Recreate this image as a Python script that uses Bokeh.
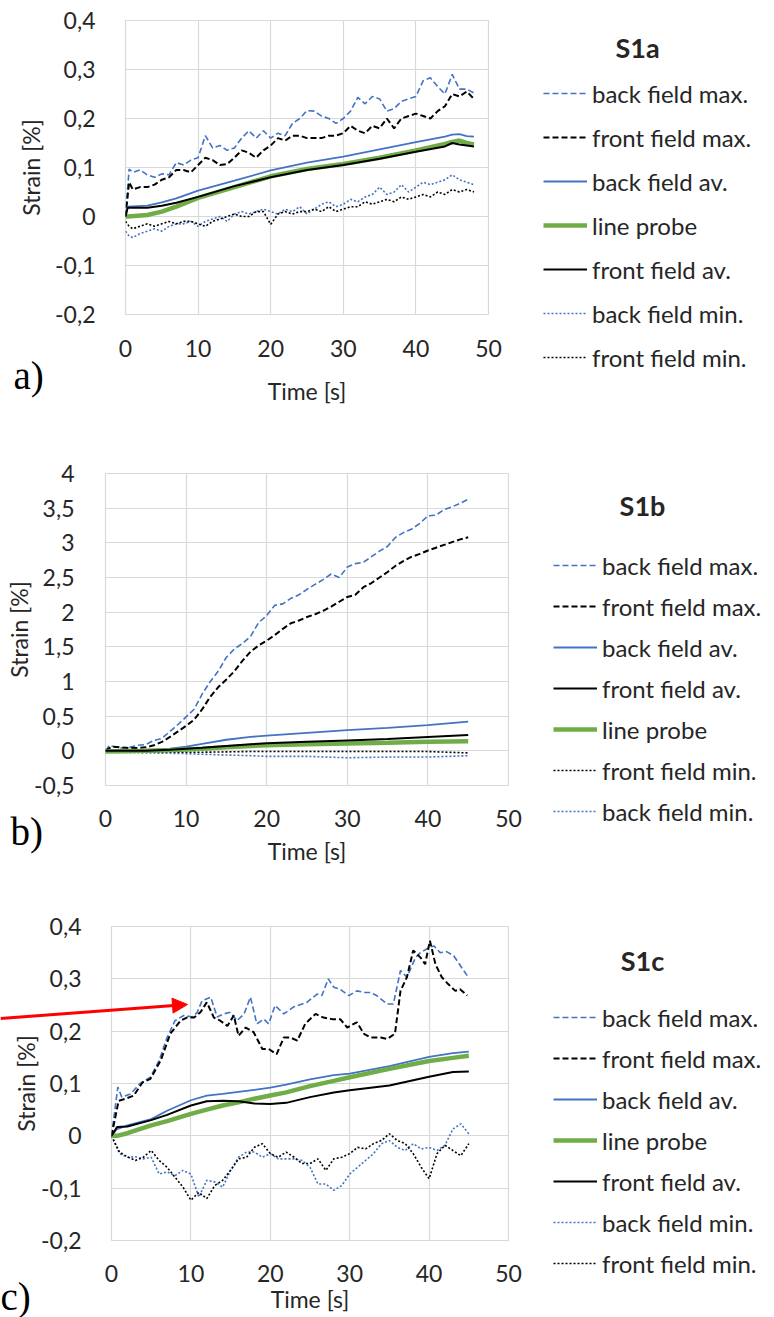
from bokeh.plotting import figure
from bokeh.models import (Range1d, FixedTicker, CustomJSTickFormatter, Legend, LegendItem,
                          Label, Arrow, NormalHead)
from bokeh.embed import file_html
from bokeh.resources import INLINE

# ---------------- data: panel a (S1a) ----------------
a_t = [0, 0.5] + list(range(1, 49))
a_back_max = [0.0, 0.097, 0.09, 0.095, 0.085, 0.08, 0.087, 0.085, 0.11, 0.105, 0.115, 0.12,
              0.165, 0.14, 0.145, 0.135, 0.14, 0.16, 0.175, 0.16, 0.175, 0.16,
              0.17, 0.165, 0.19, 0.2, 0.216, 0.215, 0.205, 0.2, 0.19, 0.2,
              0.215, 0.243, 0.23, 0.245, 0.24, 0.215, 0.22, 0.235, 0.24, 0.245,
              0.277, 0.283, 0.265, 0.25, 0.29, 0.26, 0.26, 0.252]
a_front_max = [0.0, 0.07, 0.055, 0.06, 0.06, 0.065, 0.075, 0.08, 0.095, 0.095, 0.09, 0.105,
               0.12, 0.115, 0.105, 0.107, 0.12, 0.135, 0.13, 0.12, 0.135, 0.145,
               0.16, 0.155, 0.165, 0.165, 0.16, 0.16, 0.16, 0.165, 0.165, 0.17,
               0.185, 0.175, 0.17, 0.185, 0.18, 0.2, 0.18, 0.2, 0.205, 0.21,
               0.205, 0.2, 0.215, 0.225, 0.25, 0.245, 0.255, 0.24]
a_back_min = [-0.03, -0.04, -0.043, -0.035, -0.03, -0.025, -0.03, -0.02, -0.015, -0.015, -0.01, -0.02,
              -0.01, -0.005, 0.0, -0.01, 0.005, 0.01, 0.005, 0.01, 0.015, 0.01,
              0.005, 0.015, 0.01, 0.02, 0.005, 0.015, 0.025, 0.03, 0.02, 0.025,
              0.035, 0.03, 0.04, 0.045, 0.06, 0.045, 0.05, 0.065, 0.05, 0.06,
              0.07, 0.065, 0.07, 0.075, 0.085, 0.075, 0.07, 0.065]
a_front_min = [-0.01, -0.02, -0.025, -0.02, -0.015, -0.02, -0.015, -0.01, -0.015, -0.01, -0.01, -0.015,
               -0.02, -0.01, -0.005, 0.0, 0.005, 0.0, 0.0, 0.01, 0.01, -0.016,
               0.005, 0.01, 0.005, 0.01, 0.01, 0.015, 0.01, 0.02, 0.01, 0.015,
               0.02, 0.02, 0.03, 0.025, 0.03, 0.035, 0.03, 0.04, 0.035, 0.04,
               0.045, 0.04, 0.05, 0.045, 0.055, 0.05, 0.055, 0.05]
a_ts = [0, 0.3, 3, 5, 7, 10, 15, 20, 25, 30, 35, 40, 44, 45, 46, 47, 48]
a_back_av = [0, 0.02, 0.022, 0.029, 0.037, 0.053, 0.073, 0.094, 0.11, 0.122, 0.137, 0.152, 0.163, 0.167, 0.168, 0.164, 0.163]
a_front_av = [0, 0.018, 0.018, 0.022, 0.028, 0.04, 0.062, 0.08, 0.095, 0.105, 0.118, 0.132, 0.143, 0.15, 0.147, 0.145, 0.143]
a_line_probe = [0, 0.0, 0.003, 0.01, 0.02, 0.038, 0.06, 0.082, 0.097, 0.107, 0.12, 0.135, 0.148, 0.152, 0.155, 0.15, 0.147]

# ---------------- data: panel b (S1b) ----------------
b_t = [0, 0.5] + list(range(1, 46))
b_back_max = [0.0, 0.08, 0.06, 0.04, 0.05, 0.08, 0.09, 0.15, 0.18, 0.28, 0.38, 0.49,
              0.6, 0.82, 1.0, 1.15, 1.35, 1.47, 1.55, 1.65, 1.85, 1.95,
              2.1, 2.12, 2.2, 2.25, 2.33, 2.4, 2.47, 2.55, 2.5, 2.65,
              2.7, 2.72, 2.8, 2.88, 2.95, 3.08, 3.15, 3.2, 3.28, 3.39,
              3.4, 3.48, 3.52, 3.57, 3.63]
b_front_max = [0.0, 0.04, 0.06, 0.05, 0.04, 0.04, 0.05, 0.08, 0.13, 0.2, 0.28, 0.36,
               0.45, 0.6, 0.78, 0.92, 1.03, 1.15, 1.3, 1.43, 1.52, 1.59,
               1.67, 1.76, 1.84, 1.88, 1.93, 1.97, 2.02, 2.08, 2.15, 2.22,
               2.25, 2.36, 2.42, 2.5, 2.58, 2.67, 2.74, 2.8, 2.84, 2.89,
               2.93, 2.97, 3.01, 3.05, 3.08]
b_ts = [0, 5, 8, 10, 12, 15, 18, 20, 25, 30, 35, 40, 45]
b_back_av = [0, 0.01, 0.03, 0.06, 0.1, 0.16, 0.2, 0.22, 0.26, 0.3, 0.33, 0.37, 0.42]
b_front_av = [0, 0.0, 0.015, 0.03, 0.045, 0.07, 0.095, 0.11, 0.13, 0.15, 0.17, 0.2, 0.23]
b_line_probe = [-0.01, 0.0, 0.01, 0.02, 0.03, 0.05, 0.07, 0.08, 0.095, 0.105, 0.115, 0.13, 0.14]
b_front_min = [-0.01, -0.02, -0.02, -0.02, -0.02, -0.015, -0.01, -0.01, -0.01, -0.01, -0.01, -0.01, -0.03]
b_back_min = [-0.02, -0.03, -0.035, -0.04, -0.05, -0.06, -0.07, -0.08, -0.08, -0.1, -0.09, -0.09, -0.07]

# ---------------- data: panel c (S1c) ----------------
c_back_max_t = [0, 0.8, 1.3, 2.4, 3.6, 4.9, 6, 7, 8, 9.1, 10.2, 10.8, 11.4, 12.5, 13.3, 14.1, 15, 15.8,
                16.7, 17.5, 18.3, 19.2, 19.8, 20.6, 21.7, 22.9, 24.6, 25.9, 26.5, 27.3, 28, 28.8,
                29.9, 30.9, 31.8, 32.6, 33.4, 34.7, 35.5, 36.4, 37.2, 38.3, 38.9, 39.7, 40.6,
                41.4, 42.2, 43.1, 44.8]
c_back_max = [0, 0.093, 0.074, 0.08, 0.1, 0.112, 0.144, 0.188, 0.22, 0.23, 0.227, 0.236, 0.258, 0.265,
              0.227, 0.233, 0.236, 0.22, 0.233, 0.265, 0.214, 0.223, 0.214, 0.249, 0.233, 0.246,
              0.255, 0.271, 0.268, 0.3, 0.284, 0.28, 0.268, 0.277, 0.274, 0.274, 0.268, 0.252,
              0.252, 0.316, 0.303, 0.341, 0.35, 0.357, 0.363, 0.35, 0.352, 0.344, 0.306]
c_front_max_t = [0, 0.9, 1.8, 2.8, 3.9, 4.9, 6.2, 7.4, 8.7, 9.5, 10.4, 11.2, 12, 12.9, 13.7, 14.6, 15.4,
                 16, 16.9, 17.9, 19, 19.8, 20.8, 21.7, 22.5, 23.4, 24.4, 25.7, 26.7, 27.8, 28.8,
                 29.7, 30.9, 31.8, 32.6, 33.9, 34.7, 35.7, 36.4, 37.2, 38, 38.9, 39.5, 40.1, 40.8,
                 41.6, 42.4, 43.3, 43.9, 44.8]
c_front_max = [0, 0.067, 0.071, 0.077, 0.102, 0.109, 0.144, 0.195, 0.22, 0.226, 0.226, 0.236, 0.255,
               0.226, 0.22, 0.21, 0.23, 0.191, 0.207, 0.198, 0.166, 0.166, 0.156, 0.188, 0.188,
               0.182, 0.214, 0.233, 0.226, 0.223, 0.223, 0.207, 0.217, 0.195, 0.188, 0.188, 0.185,
               0.195, 0.277, 0.303, 0.354, 0.341, 0.328, 0.373, 0.328, 0.303, 0.29, 0.277, 0.28, 0.268]
c_ts = [0, 0.7, 2, 5, 7, 10, 12, 14, 16, 18, 20, 22, 25, 28, 30, 35, 40, 43, 45]
c_back_av = [0, 0.013, 0.02, 0.032, 0.048, 0.068, 0.077, 0.08, 0.084, 0.088, 0.092, 0.098, 0.108, 0.116, 0.119, 0.133, 0.151, 0.158, 0.161]
c_front_av = [0, 0.017, 0.018, 0.03, 0.04, 0.058, 0.066, 0.067, 0.066, 0.062, 0.061, 0.063, 0.074, 0.083, 0.087, 0.096, 0.113, 0.122, 0.123]
c_line_probe = [0, 0.0, 0.005, 0.02, 0.028, 0.042, 0.05, 0.058, 0.064, 0.071, 0.077, 0.083, 0.095, 0.105, 0.112, 0.128, 0.143, 0.149, 0.153]
c_t = list(range(0, 46))
c_back_min = [0, -0.034, -0.041, -0.04, -0.044, -0.041, -0.073, -0.069, -0.076, -0.066, -0.073, -0.117,
              -0.085, -0.088, -0.098, -0.066, -0.041, -0.031, -0.031, -0.041, -0.034, -0.044, -0.044,
              -0.044, -0.047, -0.06, -0.092, -0.092, -0.104, -0.095, -0.073, -0.06, -0.047, -0.034,
              -0.015, -0.009, -0.022, -0.028, -0.015, -0.025, -0.022, -0.028, -0.018, 0.013, 0.023, 0.004]
c_front_min = [0, -0.031, -0.04, -0.047, -0.041, -0.028, -0.047, -0.06, -0.079, -0.098, -0.123, -0.108,
               -0.12, -0.095, -0.085, -0.066, -0.044, -0.041, -0.022, -0.015, -0.034, -0.041, -0.031,
               -0.041, -0.053, -0.053, -0.044, -0.066, -0.044, -0.041, -0.034, -0.022, -0.025, -0.015,
               -0.009, 0.004, -0.009, -0.015, -0.034, -0.06, -0.082, -0.034, -0.018, -0.028, -0.038, -0.015]

x_ticks = [0, 10, 20, 30, 40, 50]
a_y_ticks = [-0.2, -0.1, 0, 0.1, 0.2, 0.3, 0.4]
b_y_ticks = [-0.5, 0, 0.5, 1, 1.5, 2, 2.5, 3, 3.5, 4]
c_y_ticks = [-0.2, -0.1, 0, 0.1, 0.2, 0.3, 0.4]

order_a = ["back field max.", "front field max.", "back field av.", "line probe",
           "front field av.", "back field min.", "front field min."]
order_b = ["back field max.", "front field max.", "back field av.", "front field av.",
           "line probe", "front field min.", "back field min."]
order_c = ["back field max.", "front field max.", "back field av.", "line probe",
           "front field av.", "back field min.", "front field min."]

# ---------------- styles ----------------
BLUE = "#4472C4"
GREEN = "#70AD47"
BLACK = "#000000"
RED = "#FF0000"
FONT = "Lato"
TXT = "#262626"
FS = "23px"
LFS = "24px"
STY = {
    "back field max.": dict(line_color=BLUE, line_width=1.6, line_dash="6 3"),
    "front field max.": dict(line_color=BLACK, line_width=2.0, line_dash="6 3"),
    "back field av.": dict(line_color=BLUE, line_width=1.8),
    "line probe": dict(line_color=GREEN, line_width=4.5),
    "front field av.": dict(line_color=BLACK, line_width=2.0),
    "back field min.": dict(line_color=BLUE, line_width=1.6, line_dash="2 2"),
    "front field min.": dict(line_color=BLACK, line_width=1.6, line_dash="2 2"),
}
DRAW_ORDER = ["back field min.", "front field min.", "back field max.", "front field max.",
              "back field av.", "line probe", "front field av."]

fmt = CustomJSTickFormatter(code="return String(Math.round(tick*10)/10).replace('.', ',');")


def panel(H, fl, fr, ft, fb, yr, yticks, series, x_std, xlab_std, y_std, ylab_std):
    p = figure(width=774, height=H, x_range=Range1d(0, 50), y_range=Range1d(*yr),
               output_backend="svg", toolbar_location=None,
               min_border_left=fl, min_border_right=774 - fr,
               min_border_top=ft, min_border_bottom=H - fb)
    p.outline_line_color = "#d9d9d9"
    p.outline_line_width = 1.2
    for ax in (p.xaxis[0], p.yaxis[0]):
        ax.axis_line_color = None
        ax.major_tick_line_color = None
        ax.minor_tick_line_color = None
        ax.major_label_text_font = FONT
        ax.major_label_text_font_size = FS
        ax.major_label_text_color = TXT
        ax.axis_label_text_font = FONT
        ax.axis_label_text_font_size = FS
        ax.axis_label_text_font_style = "normal"
        ax.axis_label_text_color = TXT
        ax.formatter = fmt
    p.xaxis.ticker = FixedTicker(ticks=x_ticks)
    p.yaxis.ticker = FixedTicker(ticks=yticks)
    p.xaxis.axis_label = "Time [s]"
    p.yaxis.axis_label = "Strain [%]"
    p.xaxis.major_label_standoff = x_std
    p.xaxis.axis_label_standoff = xlab_std
    p.yaxis.major_label_standoff = y_std
    p.yaxis.axis_label_standoff = ylab_std
    p.grid.grid_line_color = "#d9d9d9"
    p.grid.grid_line_width = 1.2
    p.xgrid.ticker = FixedTicker(ticks=x_ticks)
    p.ygrid.ticker = FixedTicker(ticks=yticks)
    for name in DRAW_ORDER:
        xs, ys = series[name]
        p.line(xs, ys, **STY[name])
    return p


sa = {
    "back field max.": (a_t, a_back_max), "front field max.": (a_t, a_front_max),
    "back field av.": (a_ts, a_back_av), "line probe": (a_ts, a_line_probe),
    "front field av.": (a_ts, a_front_av), "back field min.": (a_t, a_back_min),
    "front field min.": (a_t, a_front_min),
}
pa = panel(430, 125, 488, 20, 314, (-0.2, 0.4), a_y_ticks, sa, 19, 17, 24, 7)

sb = {
    "back field max.": (b_t, b_back_max), "front field max.": (b_t, b_front_max),
    "back field av.": (b_ts, b_back_av), "front field av.": (b_ts, b_front_av),
    "line probe": (b_ts, b_line_probe), "front field min.": (b_ts, b_front_min),
    "back field min.": (b_ts, b_back_min),
}
pb = panel(450, 105, 508, 43, 355, (-0.5, 4), b_y_ticks, sb, 18, 7, 25, -2)

sc = {
    "back field max.": (c_back_max_t, c_back_max), "front field max.": (c_front_max_t, c_front_max),
    "back field av.": (c_ts, c_back_av), "line probe": (c_ts, c_line_probe),
    "front field av.": (c_ts, c_front_av), "back field min.": (c_t, c_back_min),
    "front field min.": (c_t, c_front_min),
}
pc = panel(437, 111, 508, 46, 360, (-0.2, 0.4), c_y_ticks, sc, 18, 0, 24, -2)

for name, s in list(sa.items()) + list(sb.items()) + list(sc.items()):
    assert len(s[0]) == len(s[1]), (name, len(s[0]), len(s[1]))

# ---------------- page overlay: legends, panel titles, tags and the red arrow ----------------
ov = figure(width=774, height=1317, x_range=Range1d(0, 774), y_range=Range1d(1317, 0),
            output_backend="svg", toolbar_location=None, x_axis_location=None,
            y_axis_location=None, min_border=0, border_fill_color=None,
            background_fill_color=None, outline_line_color=None,
            styles={"position": "absolute", "top": "0px", "left": "0px"})
ov.grid.visible = False


def add_legend(order, loc, spacing):
    items = []
    for name in order:
        # legend key only: a single off-canvas vertex, so the key line style is shown
        sample = ov.line([-500], [-500], **STY[name])
        items.append(LegendItem(label=name, renderers=[sample]))
    ov.add_layout(Legend(items=items, location=loc, orientation="vertical", padding=0,
                         margin=0, spacing=spacing, label_height=30, glyph_height=30,
                         glyph_width=44, label_standoff=5, border_line_color=None,
                         background_fill_alpha=0, label_text_font=FONT,
                         label_text_font_size=LFS, label_text_color=TXT))


add_legend(order_a, (543, 945), 14)
add_legend(order_b, (553, 491), 11)
add_legend(order_c, (553, 39), 11)

for txt, x, y in [("S1a", 637, 47), ("S1b", 642, 505), ("S1c", 642, 960)]:
    ov.add_layout(Label(x=x, y=y, text=txt, text_font=FONT, text_font_size="27px",
                        text_font_style="bold", text_color=TXT, text_align="center",
                        text_baseline="middle"))
for txt, x, y in [("a)", 13, 375), ("b)", 10, 831), ("c)", 0, 1296)]:
    ov.add_layout(Label(x=x, y=y, text=txt, text_font="Liberation Serif", text_font_size="39px",
                        text_color=BLACK, text_align="left", text_baseline="middle"))

ov.add_layout(Arrow(x_start=0, y_start=1018, x_end=187, y_end=1004, line_color=RED, line_width=3,
                    end=NormalHead(size=15, fill_color=RED, line_color=RED)))

open("out.html", "w").write(file_html([pa, pb, pc, ov], INLINE))
